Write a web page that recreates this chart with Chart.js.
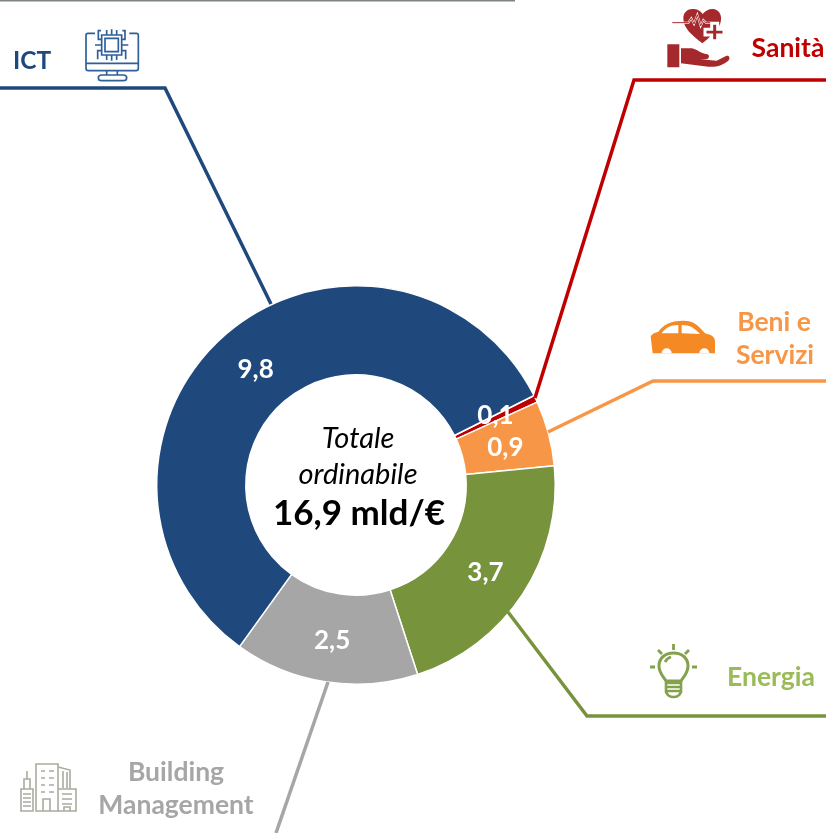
<!DOCTYPE html>
<html><head><meta charset="utf-8">
<style>html,body{margin:0;padding:0;background:#fff}#w{position:relative;width:826px;height:833px;overflow:hidden}canvas{display:block}</style>
<script src="https://cdn.jsdelivr.net/npm/chart.js@4"></script>
</head><body><div id="w"><canvas id="c" width="826" height="833"></canvas></div>
<script>
const categories=['Sanità','Beni e Servizi','Energia','Building Management','ICT'];
const values=[0.1,0.9,3.66,2.54,9.8];
const colors=['#C00000','#F79646','#77933C','#A6A6A6','#1F497D'];
const totalLabel='16,9 mld/€';
const centerLines=['Totale','ordinabile'];
const FF='Lato, Carlito, sans-serif';

function poly(ctx,pts,col,w){ctx.save();ctx.strokeStyle=col;ctx.lineWidth=w;ctx.lineJoin='miter';ctx.beginPath();
 pts.forEach((p,i)=>i?ctx.lineTo(p[0],p[1]):ctx.moveTo(p[0],p[1]));ctx.stroke();ctx.restore();}
function txt(ctx,s,x,y,font,col,al){ctx.save();ctx.font=font;ctx.fillStyle=col;ctx.textAlign=al||'center';ctx.textBaseline='middle';ctx.fillText(s,x,y);ctx.restore();}
function icon(ctx,x,y,fn,k){ctx.save();ctx.translate(x,y);if(k)ctx.scale(k,k);fn(ctx);ctx.restore();}
function P(ctx,d,stroke,w,fill){const p=new Path2D(d);if(fill){ctx.fillStyle=fill;ctx.fill(p,'evenodd');}if(stroke){ctx.strokeStyle=stroke;ctx.lineWidth=w;ctx.stroke(p);}}

function ictIcon(c){const s='#2F5E9B',w=5;
 P(c,'M285 100H264Q258 100 258 106V205Q258 212 265 212H408Q415 212 415 205V106Q415 100 409 100H388',s,w);
 P(c,'M258 190H415M320 212V225M352 212V225M305 225Q295 225 295 233Q295 242 305 242H370Q380 242 380 233Q380 225 370 225Z',s,w);
 P(c,'M305 105H365V165H305ZM315 115H355V155H315Z',s,w);
 P(c,'M320 105V90M335 105V88M350 105V90M305 118H295V92H303M365 118H375V92H367M305 135H285M365 135H385M305 152H293V178M365 152H377V178M320 165V180M335 165V182M350 165V180',s,w);
}
function healthIcon(c){const f='#A5282C';
 P(c,'M247 130C215 105 190 85 190 55C190 35 205 25 222 27C235 28 243 35 248 42C255 33 265 27 278 27C295 27 305 42 303 60C302 72 296 82 285 95L262 118Z',null,0,f);
 P(c,'M157 68H205L214 55L222 72L232 44L242 78L250 60L258 68H272','#fff',6);
 P(c,'M157 68H205L214 55L222 72L232 44L242 78L250 60L258 68H272',f,3);
 P(c,'M275 70H293V88H312V105H293V122H275V105H255V88H275Z','#fff',9,f);
 P(c,'M142 133H178V202H142ZM183 145H215C232 148 240 160 262 163C270 165 268 178 258 178H240L290 182L318 168C328 165 332 175 325 182C310 195 290 202 265 200L183 190Z',null,0,f);
}
function carIcon(c){const f='#F58A25';
 P(c,'M635 135L632 108Q640 98 655 95C670 75 690 62 730 62C760 62 775 75 795 100C815 105 825 110 825 125V160H638ZM665 100C675 85 690 75 715 75V100ZM725 75C750 75 765 85 780 102L725 100Z',null,0,f);
 P(c,'M665 160A15 15 0 0 1 695 160ZM778 160A15 15 0 0 1 808 160Z',null,0,'#fff');
}
function bulbIcon(c){const s='#84A24B';
 P(c,'M16 37C13 32 9 29 9 22C9 14 15 9 23.5 9C32 9 38 14 38 22C38 29 34 32 31 37Z',s,3);
 P(c,'M16 39H31V48Q29 53 23.5 53Q18 53 16 48ZM17 43H30M17 47H30',s,2.6);
 P(c,'M23.5 0V6M8 6L12 10M39 6L35 10M0 23H5M42 23H47M15 18Q17 14 21 13',s,2.8);
}
function bldIcon(c){const s='#ABABA0',w=1.6;
 P(c,'M1 27H13V49H1ZM4 27V17H10V27M7 17V9M3 32H11M3 36H11M3 40H11M3 44H11',s,w);
 P(c,'M16 2H38V49H16ZM23 49V37H30V49M21 9H25M29 9H34M21 16H25M29 16H34M21 23H25M29 23H34M21 30H25M29 30H34',s,w);
 P(c,'M38 5L50 8V27M38 27H56V49H38M43 9V26M47 10V26M42 32H52M42 37H52M42 42H52M44 49V45H50V49',s,w);
}

const overlay={id:'overlay',
 beforeDatasetsDraw(ch){const c=ch.ctx;
  poly(c,[[0,0.5],[515,0.5]],'#7F8487',2);
 },
 afterDatasetsDraw(ch){const c=ch.ctx;
  poly(c,[[0,88],[165,88],[271,304]],colors[4],3.5);
  poly(c,[[826,80],[634,80],[535,398]],colors[0],3.5);
  poly(c,[[826,381],[653,381],[548,432]],colors[1],3.5);
  poly(c,[[508,612],[587,716],[826,716]],colors[2],3.5);
  poly(c,[[328,682],[276,833]],colors[3],3.5);
  const meta=ch.getDatasetMeta(0);
  meta.data.forEach((a,i)=>{const p=a.tooltipPosition();const dy=i===0?-2:2.5;
    txt(c,values[i].toFixed(1).replace('.',','),p.x,p.y+dy,'bold 26px '+FF,'#fff');});
  txt(c,centerLines[0],358,439,'italic 29px '+FF,'#000');
  txt(c,centerLines[1],358,475,'italic 29px '+FF,'#000');
  txt(c,totalLabel,359,514,'bold 35px '+FF,'#000');
  txt(c,'ICT',32,61,'bold 24.5px '+FF,colors[4]);
  txt(c,'Sanità',788,48,'bold 26.5px '+FF,colors[0]);
  txt(c,'Beni e',774,322,'bold 26.5px '+FF,colors[1]);
  txt(c,'Servizi',775,355,'bold 26.5px '+FF,colors[1]);
  txt(c,'Energia',771,677,'bold 26.5px '+FF,'#9BBB59');
  txt(c,'Building',176,772,'bold 26.5px '+FF,colors[3]);
  txt(c,'Management',176,805,'bold 26.5px '+FF,colors[3]);
  icon(c,0,0,ictIcon,1/3);
  icon(c,620,0,healthIcon,1/3);
  icon(c,440,300,carIcon,1/3);
  icon(c,650,644,bulbIcon);
  icon(c,20,762,bldIcon);
 }};

new Chart(document.getElementById('c'),{
 type:'doughnut',
 data:{labels:categories,datasets:[{data:values,backgroundColor:colors,borderColor:'#fff',borderWidth:1.5,borderAlign:'center'}]},
 options:{responsive:false,animation:false,rotation:63.3,cutout:'55.3%',
  layout:{padding:{left:156,right:270,top:285,bottom:148}},
  plugins:{legend:{display:false},tooltip:{enabled:false},title:{display:false}}},
 plugins:[overlay]
});
</script></body></html>
